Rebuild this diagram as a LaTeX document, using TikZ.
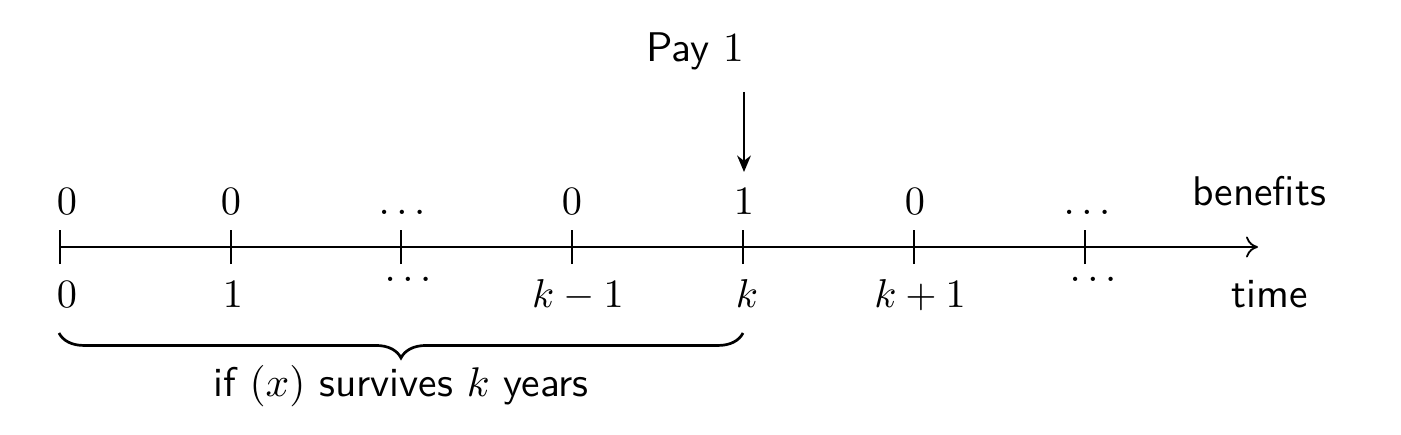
\documentclass[tikz,border=0pt]{standalone}
\usetikzlibrary{decorations.pathreplacing,arrows.meta}
\tikzset{
  lbl/.style={anchor=base, inner sep=0pt, scale=1.34},
  slbl/.style={anchor=base, inner sep=0pt, scale=1.38, font=\sffamily},
  axisline/.style={line width=0.6pt},
  tickline/.style={line width=0.6pt},
}
\begin{document}
\begin{tikzpicture}[x=0.011696cm, y=0.011696cm]
\useasboundingbox (0,0) rectangle (1401,434);
% axis
\coordinate (a0) at (60,187);
\coordinate (a1) at (1258,187);
\draw[axisline,-{To[length=4pt,width=7pt]}] (a0) -- (a1);
% ticks
\foreach \i/\x in {0/60,1/231,2/401,3/572,4/743,5/914,6/1085}{
  \coordinate (t\i) at (\x,187);
  \draw[tickline] ([yshift=-17*0.011696cm]t\i) -- ([yshift=17*0.011696cm]t\i);
}
% top labels
\node[lbl] (b0) at (67,219) {$0$};
\node[lbl] (b1) at (231,219) {$0$};
\node[lbl] (b2) at (402,219) {$\dots$};
\node[lbl] (b3) at (572,219) {$0$};
\node[lbl] (b4) at (744,219) {$1$};
\node[lbl] (b5) at (915,219) {$0$};
\node[lbl] (b6) at (1087,219) {$\dots$};
\node[slbl] (ben) at (1259,228) {benefits};
% bottom labels
\node[lbl] (m0) at (67,127) {$0$};
\node[lbl] (m1) at (233,127) {$1$};
\node[lbl] (m2) at (408,153) {$\dots$};
\node[lbl] (m3) at (578,127) {$k-1$};
\node[lbl] (m4) at (747,127) {$k$};
\node[lbl] (m5) at (920,127) {$k+1$};
\node[lbl] (m6) at (1093,153) {$\dots$};
\node[slbl] (tim) at (1270,127) {time};
% pay arrow
\node[slbl] (pay) at (695,372) {Pay $1$};
\coordinate (as) at (744,342);
\coordinate (ae) at (744,262);
\draw[line width=0.6pt,-{Stealth[length=5.5pt,width=4.6pt]}] (as) -- (ae);
% brace
\coordinate (br) at (743,101);
\coordinate (bl) at (59,101);
\draw[line width=0.9pt, decorate, decoration={brace, amplitude=8.3pt}] (br) -- (bl);
\node[slbl] (cond) at (401,38) {if $(x)$ survives $k$ years};
\end{tikzpicture}
\end{document}
